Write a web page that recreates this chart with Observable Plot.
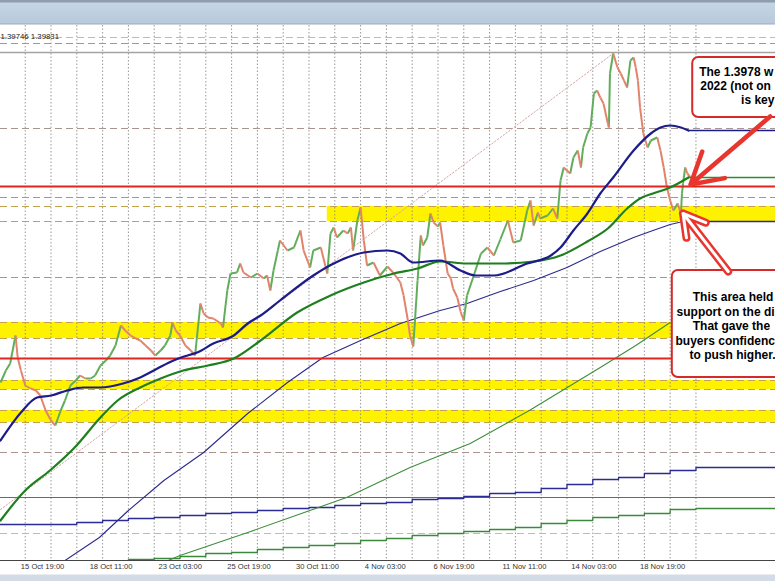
<!DOCTYPE html>
<html><head><meta charset="utf-8">
<script src="https://cdn.jsdelivr.net/npm/d3@7"></script>
<script src="https://cdn.jsdelivr.net/npm/@observablehq/plot@0.6"></script>
<style>
html,body{margin:0;padding:0;overflow:hidden;background:#fff;}
#chart{width:775px;height:581px;background:linear-gradient(to bottom,#8f9eae 0px,#8f9eae 2px,#c4d4e3 3px,#b8cadb 23px,#9aaabb 24px,#ffffff 25px,#ffffff 574px,#d3dce6 575px,#d3dce6 581px);}
</style></head><body><div id="chart"></div><script>
// ---- time axis (hourly bars) ----
const xLabelBars = [18,82,146,210,274,338,402,466,530,594];
const xLabels = ["15 Oct 19:00","18 Oct 11:00","23 Oct 03:00","25 Oct 19:00","30 Oct 11:00","4 Nov 03:00","6 Nov 19:00","11 Nov 11:00","14 Nov 03:00","18 Nov 19:00"];
const dayStarts = [-1,23,47,71,95,119,143,167,191,215,239,263,287,311,335,359,383,407,431,455,479,503,527,551,575,599,623,647];
const lastBar = 721;

// ---- price path ----
const priceBars = [0,5,9,14,16,19,23,28,33,37, 42,47,51,56,60,65,70,74,79,84, 88,93,98,102,107,112,116,121,126,130, 135,140,144,149,153,158,160,163,167,172, 177,181,186,189,193,198,205,207,211,214, 220,223,226,233,239,245,248,251,254,258, 260,267,273,279,282,288,291,298,304,307, 310,313,319,323,326,328,332,335,338,341, 347,353,360,366,372,375,379,381,384,388, 391,393,397,400,403,407,409,412,416,419, 421,425,428,431,434,440,447,453,459,465, 472,477,484,490,493,496,500,502,509,514, 518,521,524,530,533,537,540,542,546,549, 552,555,558,561,565,566,567,570,574,577, 580,583,586,589,591,593,595,598,602,605, 611,614,617,620,623,626,630,633,634,635, 637,639,642];
const priceCloses = [1.3782,1.3794,1.3801,1.3829,1.3807,1.3794,1.3779,1.3776,1.3774,1.3769, 1.3754,1.3744,1.3739,1.3754,1.3764,1.3779,1.3784,1.3789,1.3786,1.3786, 1.3789,1.3799,1.3804,1.3809,1.3819,1.3839,1.3834,1.3829,1.3826,1.3824, 1.3819,1.3814,1.3809,1.3814,1.3819,1.3829,1.3842,1.3834,1.3829,1.3819, 1.3814,1.3809,1.3861,1.3851,1.3847,1.3846,1.3841,1.3837,1.3874,1.3891, 1.3892,1.3901,1.3892,1.3887,1.3891,1.3886,1.3889,1.3874,1.3894,1.3914, 1.3924,1.3914,1.3917,1.3934,1.3914,1.3897,1.3914,1.3917,1.3891,1.3931, 1.3937,1.3927,1.3934,1.3931,1.3937,1.3914,1.3944,1.3957,1.3924,1.3899, 1.3902,1.3889,1.3898,1.3891,1.3882,1.3869,1.3844,1.3829,1.3818,1.3884, 1.3929,1.3919,1.3927,1.3951,1.3942,1.3938,1.3942,1.3919,1.3891,1.3886, 1.3876,1.3867,1.3853,1.3844,1.3869,1.3888,1.3911,1.3917,1.3909,1.3925, 1.3944,1.3922,1.3924,1.3954,1.3964,1.3939,1.3952,1.3946,1.3949,1.3956, 1.3946,1.3984,1.3997,1.3991,1.4007,1.4014,1.3997,1.4017,1.4031,1.4037, 1.4071,1.4074,1.4067,1.4061,1.4041,1.4037,1.4091,1.4111,1.4097,1.4091, 1.4084,1.4077,1.4104,1.4107,1.4097,1.4084,1.4057,1.4031,1.4017,1.4024, 1.4027,1.4014,1.3997,1.3977,1.3964,1.3954,1.3961,1.3951,1.3971,1.3981, 1.3997,1.3991,1.3987];

// ---- moving averages ----
const blueMaBars = [0,19,34,47,62,77,93,114,130,146,161,174,183,198,217,230,242,260,291,310,338,360,372,384,409,428,442,459,490,512,521,533,546,558,570,589,605,614,623,633,640];
const blueMaVals = [1.3724,1.3752,1.3767,1.3769,1.3774,1.3777,1.3777,1.3781,1.3787,1.3796,1.3804,1.3809,1.3812,1.3821,1.3829,1.3841,1.3849,1.3864,1.3889,1.3901,1.3912,1.3914,1.3911,1.3902,1.3904,1.3894,1.3889,1.3889,1.3901,1.3909,1.3917,1.3934,1.3951,1.3971,1.3987,1.4014,1.4031,1.4037,1.4039,1.4037,1.4034];
const greenMaBars = [0,23,46,69,93,109,130,149,170,193,217,242,276,307,338,366,388,409,434,465,496,521,546,565,583,595,607,623,640];
const greenMaVals = [1.3644,1.3674,1.3694,1.3717,1.3747,1.3764,1.3777,1.3786,1.3794,1.3799,1.3806,1.3824,1.3852,1.3869,1.3882,1.3891,1.3896,1.3903,1.3901,1.3901,1.3903,1.3909,1.3923,1.3936,1.3956,1.3966,1.3971,1.3977,1.3987];
const thinBlueBars = [60,92,119,152,189,230,267,300,335,372,409,434,465,496,527,558,589,607,623,635];
const thinBlueVals = [1.3604,1.3627,1.3654,1.3684,1.3712,1.3751,1.3782,1.3807,1.3824,1.3841,1.3854,1.3861,1.3873,1.3884,1.3897,1.3913,1.3927,1.3934,1.3940,1.3943];
const thinGreenBars = [156,167,230,322,381,437,492,538,558,591,623];
const thinGreenVals = [1.3604,1.3609,1.3632,1.3667,1.3697,1.3721,1.3754,1.3784,1.3797,1.3819,1.3842];
// daily stepped averages (one value per day)
const stepBlueVals = [1.3640,1.3640,1.3640,1.3642,1.3644,1.3646,1.3647,1.3649,1.3651,1.3652,1.3654,1.3656,1.3657,1.3659,1.3661,1.3662,1.3665,1.3666,1.3668,1.3671,1.3672,1.3676,1.3680,1.3685,1.3687,1.3691,1.3694,1.3697];
const stepGreenVals = [null,null,null,null,null,1.3605,1.3606,1.3608,1.3611,1.3612,1.3615,1.3617,1.3619,1.3621,1.3624,1.3626,1.3629,1.3631,1.3633,1.3635,1.3637,1.3641,1.3644,1.3647,1.3649,1.3651,1.3655,1.3656];
// projections of the MAs
const extStartBars = [640,640,635];
const extLevels = [1.4034,1.3987,1.3943];
const extColors = ["#1c1c8a","#2e8b2e","#2a2a8c"];

// ---- levels ----
const bandStartBars = [304,0,0,0];
const bandTops = [1.3958,1.3842,1.3784,1.3754];
const bandBottoms = [1.3943,1.3826,1.3775,1.3742];
const dashedGray = [1.4121,1.4036,1.3967,1.3887,1.3712];
const dashedPink = [1.4127,1.3631];
const redLevels = [1.3978,1.3806];
const highLevel = [1.4112];
const darkLevel = [1.3667];
const trendBars = [0,570];
const trendVals = [1.3655,1.4111];

// ---- annotations ----
const headerText = "1.39746 1.39831";
const box1Lines = ["The 1.3978 w","2022 (not on","is key"];
const box1X = [650,651,689];
const box1Y = [1.4092,1.4078,1.4064];
const box2Lines = ["This area held","support on the di","That gave the","buyers confidenc","to push higher."];
const box2X = [644,629,644,628,641];
const box2Y = [1.3867,1.3852,1.3838,1.3823,1.3809];
const boxes = [{x1:644,x2:745,y1:1.4107,y2:1.4047},{x1:625,x2:745,y1:1.3894,y2:1.3787}];
const arrowSolid = [{x1:716,y1:1.4048,x2:642,y2:1.3980}];
const arrowHollow = [{x1:677,y1:1.3893,x2:635,y2:1.3951}];

const yDomain = [1.3604,1.4139];
const pts = (xs, ys) => xs.map((x,i)=>({x, y: ys[i]}));
const priceSegs = d3.pairs(pts(priceBars, priceCloses)).map(([a,b])=>({x1:a.x,y1:a.y,x2:b.x,y2:b.y,up:b.y>=a.y}));
const stepPts = vals => { const p = dayStarts.map((x,i)=>({x, y: vals[i]})); p.push({x:lastBar, y: vals[vals.length-1]}); return p; };
const bands = bandTops.map((t,i)=>({x1:bandStartBars[i], x2:lastBar, y1:t, y2:bandBottoms[i]}));
const bandEdges = bandTops.concat(bandBottoms);
const exts = extLevels.map((y,i)=>({y, x1:extStartBars[i], x2:lastBar, c:extColors[i]}));
const font = "'Liberation Sans', Arial, sans-serif";

const chart = Plot.plot({
  width: 775, height: 581,
  marginTop: 25, marginBottom: 21, marginLeft: 0, marginRight: 0,
  x: {domain: [0, lastBar], label: null},
  y: {domain: yDomain, axis: null},
  style: {background: "transparent", overflow: "hidden", fontFamily: font},
  marks: [
    Plot.rect(bands, {x1:"x1", x2:"x2", y1:"y1", y2:"y2", fill:"#fff200", clip:true}),
    Plot.ruleX(dayStarts.slice(1), {stroke:"#7d7d7d", strokeWidth:0.8, strokeDasharray:"1.5,2"}),
    Plot.ruleY(bandEdges, {stroke:"#c2a24a", strokeWidth:1, strokeDasharray:"7,4"}),
    Plot.ruleY(dashedGray, {stroke:"#a8958f", strokeWidth:1, strokeDasharray:"7,4"}),
    Plot.ruleY(dashedPink, {stroke:"#e3aaaa", strokeWidth:1, strokeDasharray:"7,4"}),
    Plot.ruleY(highLevel, {stroke:"#a3a3a3", strokeWidth:1.5}),
    Plot.ruleY(darkLevel, {stroke:"#6a6a6a", strokeWidth:1}),
    Plot.line(pts(trendBars, trendVals), {x:"x", y:"y", stroke:"#d8a3a3", strokeWidth:1, strokeDasharray:"1.5,2"}),
    Plot.line(stepPts(stepBlueVals), {x:"x", y:"y", stroke:"#2b2b95", strokeWidth:1.3, curve:"step-after", clip:true}),
    Plot.line(stepPts(stepGreenVals), {x:"x", y:"y", stroke:"#3a8a3a", strokeWidth:1.3, curve:"step-after", clip:true}),
    Plot.line(pts(thinBlueBars, thinBlueVals), {x:"x", y:"y", stroke:"#2a2a8c", strokeWidth:1.1, clip:true}),
    Plot.line(pts(thinGreenBars, thinGreenVals), {x:"x", y:"y", stroke:"#3c8f3c", strokeWidth:1.1, clip:true}),
    Plot.link(priceSegs.filter(d=>d.up), {x1:"x1", y1:"y1", x2:"x2", y2:"y2", stroke:"#62ad5c", strokeWidth:2}),
    Plot.link(priceSegs.filter(d=>!d.up), {x1:"x1", y1:"y1", x2:"x2", y2:"y2", stroke:"#e2846c", strokeWidth:2}),
    Plot.ruleY(redLevels, {stroke:"#e0261f", strokeWidth:2}),
    Plot.ruleY(exts, {y:"y", x1:"x1", x2:"x2", stroke:d=>d.c, strokeWidth:1.3}),
    Plot.line(pts(greenMaBars, greenMaVals), {x:"x", y:"y", stroke:"#1f7f1f", strokeWidth:2.2, curve:"monotone-x"}),
    Plot.line(pts(blueMaBars, blueMaVals), {x:"x", y:"y", stroke:"#1c1c8a", strokeWidth:2.2, curve:"monotone-x"}),
    Plot.rect(boxes, {x1:"x1", x2:"x2", y1:"y1", y2:"y2", fill:"white", stroke:"#d42a2a", strokeWidth:2, rx:6, clip:true}),
    Plot.arrow(arrowSolid, {x1:"x1", y1:"y1", x2:"x2", y2:"y2", stroke:"#e8362e", strokeWidth:4.5, headLength:16}),
    Plot.arrow(arrowHollow, {x1:"x1", y1:"y1", x2:"x2", y2:"y2", stroke:"#e8362e", strokeWidth:8, headLength:18}),
    Plot.arrow(arrowHollow, {x1:"x1", y1:"y1", x2:"x2", y2:"y2", stroke:"#ffffff", strokeWidth:3, headLength:18}),
    Plot.text(box1Lines, {x:(d,i)=>box1X[i], y:(d,i)=>box1Y[i], text:d=>d, textAnchor:"start", fontWeight:"bold", fontSize:12, fill:"#000"}),
    Plot.text(box2Lines, {x:(d,i)=>box2X[i], y:(d,i)=>box2Y[i], text:d=>d, textAnchor:"start", fontWeight:"bold", fontSize:12, fill:"#000"}),
    Plot.text([headerText], {frameAnchor:"top-left", text:d=>d, textAnchor:"start", dx:0, dy:8, fontSize:7.8, fill:"#222"}),
    Plot.ruleY([yDomain[0]], {stroke:"#444", strokeWidth:1}),
    Plot.axisX(xLabelBars, {anchor:"bottom", tickSize:0, tickPadding:3, textAnchor:"start", dx:1, fontSize:7.6, fill:"#333", tickFormat:d=>xLabels[xLabelBars.indexOf(d)]})
  ]
});
document.getElementById("chart").appendChild(chart);
</script></body></html>
